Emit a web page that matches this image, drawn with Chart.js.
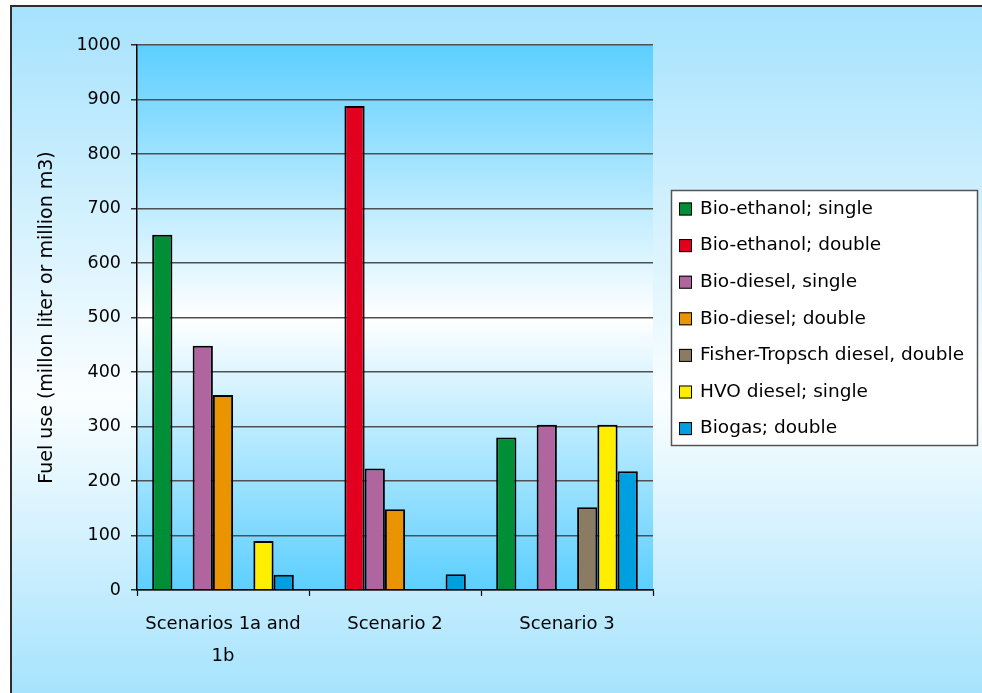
<!DOCTYPE html>
<html>
<head>
<meta charset="utf-8">
<script src="https://cdn.jsdelivr.net/npm/chart.js@4/dist/chart.umd.min.js"></script>
<style>
  html, body { margin: 0; padding: 0; background: #ffffff; }
  #wrap { width: 982px; height: 693px; position: relative; }
</style>
</head>
<body>
<div id="wrap"><canvas id="c" width="982" height="693"></canvas></div>
<script>
// Scenario groups on the x axis
const categories = [['Scenarios 1a and', '1b'], 'Scenario 2', 'Scenario 3'];

// Fuel use per fuel type (million litre or million m3); null = not used in that scenario
const bioEthanolSingle = [652, null, 280];
const bioEthanolDouble = [null, 888, null];
const bioDieselSingle  = [448, 223, 303];
const bioDieselDouble  = [358, 148, null];
const fisherTropsch    = [null, null, 152];
const hvoDieselSingle  = [90, null, 303];
const biogasDouble     = [28, 29, 218];

const seriesNames = [
  'Bio-ethanol; single',
  'Bio-ethanol; double',
  'Bio-diesel, single',
  'Bio-diesel; double',
  'Fisher-Tropsch diesel, double',
  'HVO diesel; single',
  'Biogas; double'
];
const seriesValues = [bioEthanolSingle, bioEthanolDouble, bioDieselSingle, bioDieselDouble,
                      fisherTropsch, hvoDieselSingle, biogasDouble];
const seriesColors = ['#008f37', '#e2001e', '#b0659e', '#e99400', '#8b7b62', '#ffee00', '#009fe0'];

// y-axis tick range
const yMin = 0, yMax = 1000, yStep = 100;
const yTitle = 'Fuel use (millon liter or million m3)';

const FONT = "'DejaVu Sans', Verdana, sans-serif";

// Backgrounds: framed outer panel and plot-area gradient
const backgroundPlugin = {
  id: 'panelBackground',
  beforeDraw(chart) {
    const ctx = chart.ctx;
    const W = chart.width, H = chart.height;
    ctx.save();
    ctx.fillStyle = '#ffffff';
    ctx.fillRect(0, 0, W, H);
    const og = ctx.createLinearGradient(0, 6, 0, H);
    og.addColorStop(0, '#a5e2fd');
    og.addColorStop(0.57, '#fbfeff');
    og.addColorStop(1, '#a6e3fd');
    ctx.fillStyle = og;
    ctx.fillRect(11, 6, W - 11, H - 6);
    // frame (top and left edges)
    ctx.strokeStyle = '#2e2e2e';
    ctx.lineWidth = 2;
    ctx.beginPath();
    ctx.moveTo(W, 6);
    ctx.lineTo(11, 6);
    ctx.lineTo(11, H);
    ctx.stroke();

    const a = chart.chartArea;
    const pg = ctx.createLinearGradient(0, a.top, 0, a.bottom);
    pg.addColorStop(0, '#5ccfff');
    pg.addColorStop(0.5, '#ffffff');
    pg.addColorStop(1, '#5ccfff');
    ctx.fillStyle = pg;
    ctx.fillRect(a.left, a.top, a.right - a.left, a.bottom - a.top);
    ctx.restore();
  }
};

// Boxed legend at the right of the plot
const boxLegendPlugin = {
  id: 'boxLegend',
  afterDraw(chart) {
    const ctx = chart.ctx;
    const x0 = 671, y0 = 190, w = 306, h = 255;
    ctx.save();
    ctx.fillStyle = '#ffffff';
    ctx.fillRect(x0, y0, w, h);
    ctx.strokeStyle = '#555555';
    ctx.lineWidth = 1.5;
    ctx.strokeRect(x0 + 0.5, y0 + 0.5, w, h);
    ctx.font = '18.5px ' + FONT;
    ctx.textBaseline = 'middle';
    ctx.textAlign = 'left';
    chart.data.datasets.forEach((ds, i) => {
      const cy = y0 + 19 + i * 36.6;
      ctx.fillStyle = ds.backgroundColor;
      ctx.fillRect(679, cy - 6.5, 13, 13);
      ctx.strokeStyle = '#000000';
      ctx.lineWidth = 1;
      ctx.strokeRect(679.5, cy - 6, 12, 12);
      ctx.fillStyle = '#000000';
      ctx.fillText(ds.label, 700, cy);
    });
    ctx.restore();
  }
};

const datasets = seriesNames.map((name, i) => ({
  label: name,
  data: seriesValues[i],
  backgroundColor: seriesColors[i],
  borderColor: '#000000',
  borderWidth: 2,
  borderSkipped: 'bottom'
}));

new Chart(document.getElementById('c'), {
  type: 'bar',
  data: { labels: categories, datasets },
  options: {
    responsive: false,
    animation: false,
    devicePixelRatio: 1,
    layout: { padding: { left: 28, right: 329, top: 45, bottom: 0 } },
    datasets: { bar: { categoryPercentage: 7 / 8.5, barPercentage: 1 } },
    plugins: {
      legend: { display: false },
      tooltip: { enabled: false },
      title: { display: false }
    },
    scales: {
      x: {
        afterFit(scale) { scale.height = 103; },
        grid: {
          display: true,
          offset: true,
          drawOnChartArea: false,
          drawTicks: true,
          tickLength: 6,
          tickColor: '#000000',
          tickWidth: 1.2
        },
        border: { display: true, color: '#000000', width: 1.5 },
        ticks: {
          color: '#000000',
          padding: 12,
          maxRotation: 0,
          font: { family: FONT, size: 18, lineHeight: 1.78 }
        }
      },
      y: {
        min: yMin,
        max: yMax,
        afterFit(scale) { scale.width = 109; },
        grid: {
          color: '#505050',
          lineWidth: 1.6,
          drawTicks: true,
          tickLength: 6,
          tickColor: '#000000',
          tickWidth: 1.2
        },
        border: { display: true, color: '#000000', width: 1.5 },
        ticks: {
          stepSize: yStep,
          color: '#000000',
          padding: 10,
          font: { family: FONT, size: 17.5 },
          callback: (v) => String(v)
        },
        title: {
          display: true,
          text: yTitle,
          color: '#000000',
          padding: { top: 8, bottom: 0 },
          font: { family: FONT, size: 19 }
        }
      }
    }
  },
  plugins: [backgroundPlugin, boxLegendPlugin]
});
</script>
</body>
</html>
